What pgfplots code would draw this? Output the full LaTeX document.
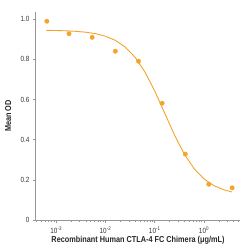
\documentclass[border=0pt]{standalone}
\usepackage{fontspec}
\setmainfont[FakeStretch=0.85]{Liberation Sans}
\usepackage{pgfplots}
\pgfplotsset{compat=1.18}
\definecolor{org}{RGB}{242,164,45}
\definecolor{axgray}{RGB}{150,150,150}
\begin{document}
\begin{tikzpicture}
\path[use as bounding box] (-36pt,-30pt) rectangle (214pt,220pt);
\begin{axis}[at={(0,0)}, anchor=south west, scale only axis, width=204pt, height=208pt,
 xmode=log, xmin=3.89e-4, xmax=5.37, ymin=0, ymax=1.035,
 axis lines=left, axis line style={axgray, line width=1pt, -},
 tick align=outside, tick style={axgray, line width=0.6pt},
 major tick length=3pt, minor tick length=2pt,
 xtick={1e-3,1e-2,1e-1,1},
 xticklabels={10\textsuperscript{-3},10\textsuperscript{-2},10\textsuperscript{-1},10\textsuperscript{0}},
 minor xtick={4e-4,5e-4,6e-4,7e-4,8e-4,9e-4,2e-3,3e-3,4e-3,5e-3,6e-3,7e-3,8e-3,9e-3,2e-2,3e-2,4e-2,5e-2,6e-2,7e-2,8e-2,9e-2,0.2,0.3,0.4,0.5,0.6,0.7,0.8,0.9,2,3,4,5},
 ytick={0,0.2,0.4,0.6,0.8,1.0},
 yticklabels={0,0.2,0.4,0.6,0.8,1.0},
 ticklabel style={font=\fontsize{7.5}{8}\selectfont, text=black!80},
 xlabel={Recombinant Human CTLA-4 FC Chimera (μg/mL)},
 ylabel={Mean OD},
 label style={font=\bfseries\fontsize{8.6}{9}\selectfont, text=black!85},
 xlabel style={at={(axis description cs:0.5,-0.096)}, anchor=center},
 ylabel style={at={(axis description cs:-0.137,0.5)}, anchor=center},
 clip=false,
]
\addplot[org, line width=0.9pt, no markers] coordinates {
(0.000631,0.9438) (0.001,0.9429) (0.001585,0.9414) (0.002512,0.9388) (0.003981,0.9345)
(0.00631,0.9270) (0.01,0.9145) (0.01585,0.8939) (0.02512,0.8607) (0.03981,0.8099)
(0.0631,0.7369) (0.1,0.6419) (0.1585,0.5325) (0.2512,0.4231) (0.3981,0.3281)
(0.631,0.2551) (1,0.2043) (1.585,0.1711) (2.512,0.1505) (3.715,0.1395)
};
\addplot[only marks, mark=*, mark size=2.2pt, color=org, mark options={draw=org, fill=org}] coordinates {
(0.000646,0.989) (0.00182,0.927) (0.00537,0.909) (0.01585,0.840) (0.0468,0.790)
(0.1413,0.581) (0.417,0.328) (1.25,0.178) (3.72,0.160)
};
\end{axis}
\end{tikzpicture}
\end{document}
